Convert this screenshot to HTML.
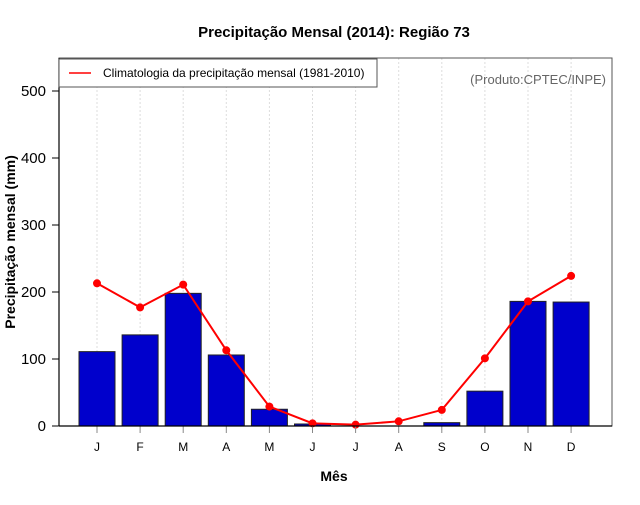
<!DOCTYPE html>
<html><head><meta charset="utf-8"><style>
body{margin:0;background:#fff;font-family:"Liberation Sans",sans-serif}
</style></head><body>
<svg width="640" height="500" xmlns="http://www.w3.org/2000/svg" font-family="Liberation Sans, sans-serif">
<text x="334" y="37" text-anchor="middle" font-size="15" font-weight="bold">Precipitação Mensal (2014): Região 73</text>
<text x="334" y="481" text-anchor="middle" font-size="14" font-weight="bold">Mês</text>
<text transform="translate(15,242) rotate(-90)" text-anchor="middle" font-size="14" font-weight="bold">Precipitação mensal (mm)</text>
<g id="grid"></g>
<g id="bars"></g>
<g id="line"></g>
<g id="axes"></g>
<rect x="59" y="58" width="553" height="368" fill="none" stroke="#555" stroke-width="1"/>
<line x1="59" y1="426" x2="612" y2="426" stroke="#000" stroke-width="1.2"/>
<line x1="59" y1="58" x2="59" y2="426" stroke="#000" stroke-width="1.2"/>
<g>
<rect x="59" y="59" width="318" height="28" fill="#fff" stroke="#555"/>
<line x1="69" y1="73" x2="91" y2="73" stroke="red" stroke-width="1.5"/>
<text x="103" y="77" font-size="12">Climatologia da precipitação mensal (1981-2010)</text>
</g>
<text x="606" y="84" text-anchor="end" font-size="13" fill="#666">(Produto:CPTEC/INPE)</text>
</svg>
<script>
const months=["J","F","M","A","M","J","J","A","S","O","N","D"];
const observed=[111,136,198,106,25,3,0,0,5,52,186,185];
const climatology=[213,177,211,113,29,4,2,7,24,101,186,224];
const yTicks=[0,100,200,300,400,500];
const NS="http://www.w3.org/2000/svg";
function xs(i){return 97+i*43.1;}
function ys(v){return 426-v*0.67;}
function mk(t,a,p){const e=document.createElementNS(NS,t);for(const k in a)e.setAttribute(k,a[k]);p.appendChild(e);return e;}
const grid=document.getElementById('grid'),bars=document.getElementById('bars'),line=document.getElementById('line'),axes=document.getElementById('axes');
months.forEach((m,i)=>{
 const g=mk('line',{x1:xs(i),x2:xs(i),y1:58,y2:426,stroke:'#ddd','stroke-dasharray':'2,2'},grid);
 
 
 const h=observed[i]*0.67;
 const b=mk('rect',{x:xs(i)-18,y:ys(observed[i]),width:36,height:h,fill:'#0000cc',stroke:'#222','stroke-width':1},bars);
 
 
 const t=mk('line',{x1:xs(i),x2:xs(i),y1:426,y2:433,stroke:'#888'},axes);
 
 
 const l=mk('text',{x:xs(i),y:451,'text-anchor':'middle','font-size':12},axes);
 l.textContent=m;
 
 
});
const pl=mk('polyline',{points:climatology.map((v,i)=>xs(i)+','+ys(v)).join(' '),fill:'none',stroke:'red','stroke-width':2},line);


climatology.forEach((v,i)=>{
 const c=mk('circle',{cx:xs(i),cy:ys(v),r:4,fill:'red'},line);
 
 
});
yTicks.forEach(v=>{
 const t=mk('line',{x1:52,x2:59,y1:ys(v),y2:ys(v),stroke:'#000'},axes);
 
 
 const l=mk('text',{x:46,y:ys(v)+5,'text-anchor':'end','font-size':15},axes);
 l.textContent=v;
 
 
});
</script>
</body></html>
